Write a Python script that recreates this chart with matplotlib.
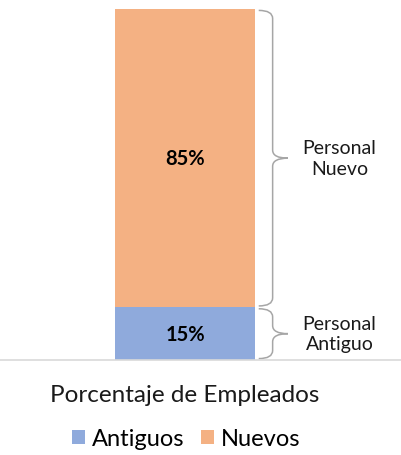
import matplotlib.pyplot as plt
from matplotlib.path import Path
from matplotlib.patches import PathPatch

categories = ['Antiguos', 'Nuevos']
values = [15, 85]
colors = ['#8FAADC', '#F4B183']
brace_labels = ['Personal\nAntiguo', 'Personal\nNuevo']

plt.rcParams['font.family'] = ['Lato', 'DejaVu Sans']


def brace(ax, x, y0, y1, hook=0.1, tip=0.11, h=2.3, color='#A6A6A6'):
    ym = (y0 + y1) / 2
    verts = [(x - hook, y0), (x, y0), (x, y0 + h),
             (x, ym - h), (x, ym), (x + tip, ym),
             (x, ym), (x, ym + h),
             (x, y1 - h), (x, y1), (x - hook, y1)]
    codes = [Path.MOVETO, Path.CURVE3, Path.CURVE3,
             Path.LINETO, Path.CURVE3, Path.CURVE3,
             Path.CURVE3, Path.CURVE3,
             Path.LINETO, Path.CURVE3, Path.CURVE3]
    ax.add_patch(PathPatch(Path(verts, codes), fill=False, ec=color, lw=1.1))


fig = plt.figure(figsize=(4.02, 4.56), dpi=100)
ax = fig.add_axes([0, 95 / 456, 1, 351 / 456])

bottom = 0
handles = []
for cat, val, col, lab in zip(categories, values, colors, brace_labels):
    b = ax.bar(0, val, width=1.0, bottom=bottom, color=col, label=cat)
    handles.append(b)
    ax.text(0, bottom + val / 2, f'{val}%', ha='center', va='center',
            fontsize=14.5, fontweight='bold', color='black')
    brace(ax, 0.63, bottom + 0.4, bottom + val - 0.4)
    ax.text(1.11, bottom + val / 2, lab, ha='center', va='center',
            fontsize=14, color='#1a1a1a', linespacing=1.25)
    bottom += val

ax.set_xlim(-1.33, 1.56)
ax.set_ylim(0, 100)
for s in ['top', 'right', 'left']:
    ax.spines[s].set_visible(False)
ax.spines['bottom'].set_color('#D9D9D9')
ax.spines['bottom'].set_linewidth(1.2)
ax.set_xticks([])
ax.set_yticks([])

fig.text(185 / 402, 1 - 396 / 456, 'Porcentaje de Empleados', ha='center',
         va='center', fontsize=17.5, color='#1a1a1a')
fig.legend(handles=handles, labels=categories, loc='center', ncol=2,
           bbox_to_anchor=(186 / 402, 1 - 440 / 456), frameon=False,
           fontsize=17, handlelength=0.55, handleheight=0.55,
           handletextpad=0.3, columnspacing=0.7, borderpad=0)

fig.savefig('out.png', dpi=100)
